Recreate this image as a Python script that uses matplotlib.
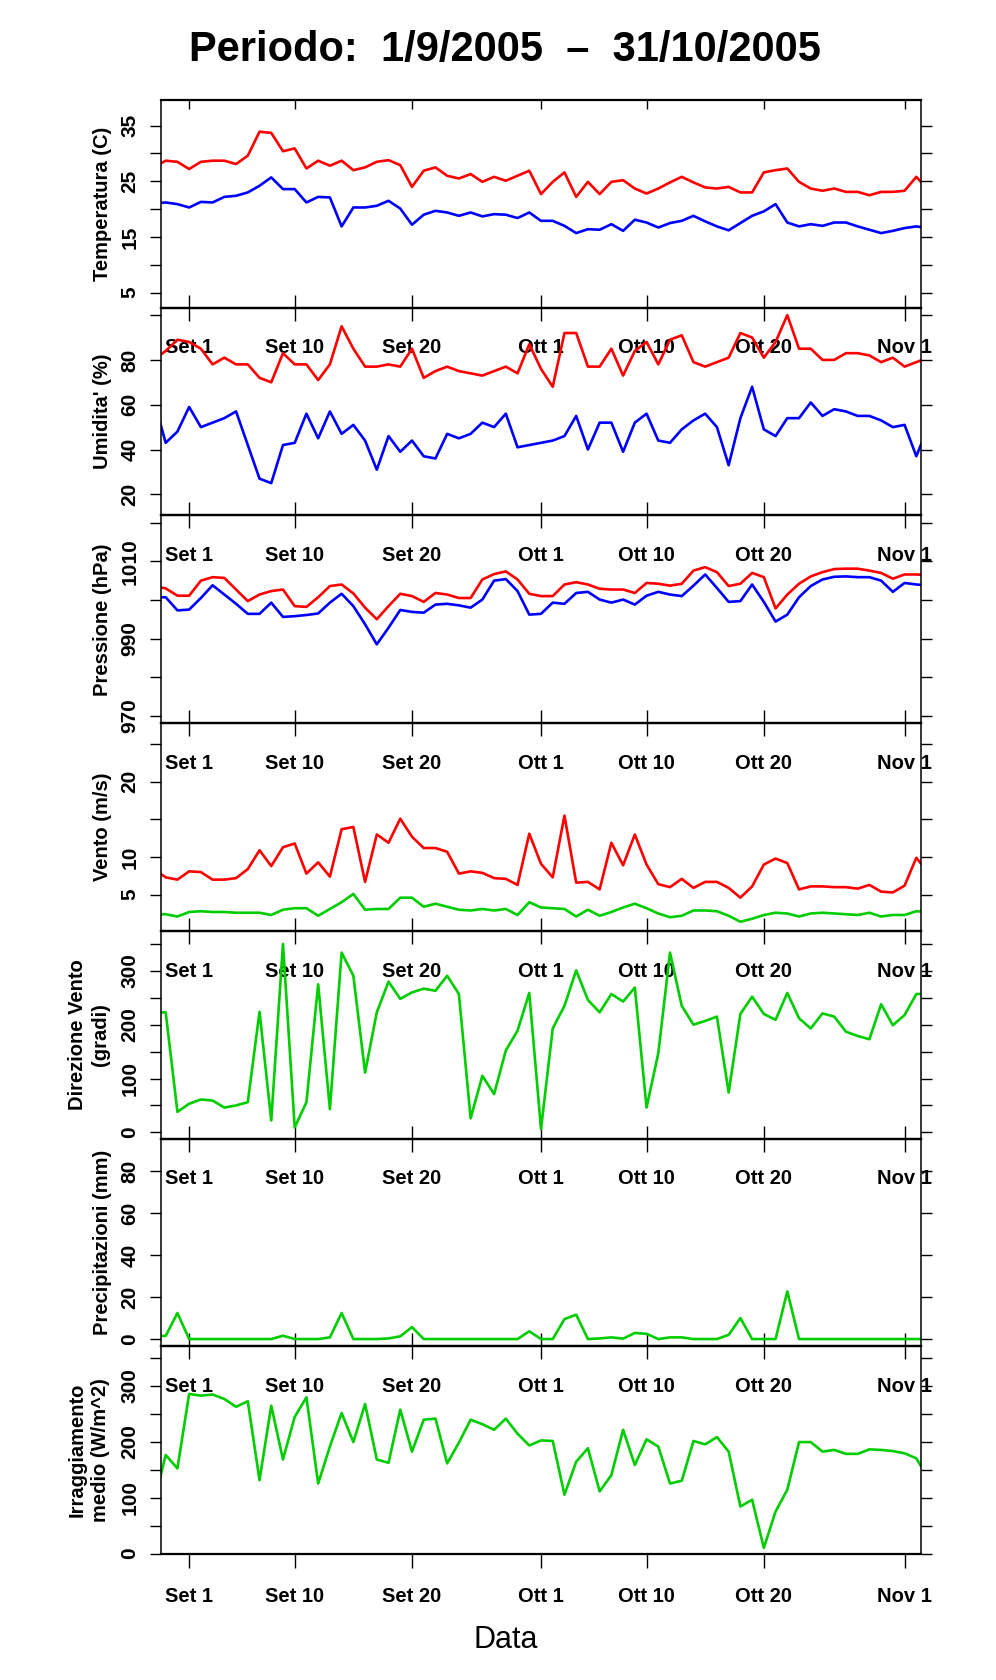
import numpy as np
import pandas as pd
import matplotlib
matplotlib.use('Agg')
import matplotlib.pyplot as plt

plt.rcParams['font.family'] = ['Liberation Sans', 'DejaVu Sans']

# giorni dal 29/8/2005 al 3/11/2005 (i bordi vengono tagliati dal riquadro)
date = pd.date_range('2005-08-29', '2005-11-03', freq='D')

temp_max = [27.5, 28.7, 28.5, 27.2, 28.5, 28.7, 28.7, 28.1, 29.6, 33.9, 33.7, 30.4, 30.9, 27.3,
            28.7, 27.8, 28.7, 27.0, 27.5, 28.5, 28.8, 27.9, 24.0, 26.9, 27.5, 26.0, 25.5, 26.3,
            24.9, 25.8, 25.1, 26.0, 26.9, 22.7, 24.9, 26.6, 22.2, 24.9, 22.7, 24.9, 25.2, 23.7,
            22.8, 23.7, 24.8, 25.8, 24.8, 23.9, 23.7, 24.0, 23.0, 23.0, 26.6, 27.0, 27.3, 24.9,
            23.7, 23.3, 23.7, 23.1, 23.1, 22.5, 23.1, 23.1, 23.3, 25.8, 23.5]
temp_min = [21.0, 21.2, 20.9, 20.3, 21.3, 21.2, 22.2, 22.4, 23.0, 24.2, 25.7, 23.6, 23.6, 21.2,
            22.2, 22.1, 16.9, 20.3, 20.3, 20.6, 21.5, 20.1, 17.2, 19.0, 19.7, 19.4, 18.8, 19.4,
            18.7, 19.1, 19.0, 18.4, 19.4, 17.9, 17.9, 17.0, 15.7, 16.4, 16.3, 17.3, 16.1, 18.1,
            17.6, 16.7, 17.5, 17.9, 18.8, 17.8, 16.9, 16.2, 17.5, 18.8, 19.6, 20.9, 17.6, 16.9,
            17.3, 17.0, 17.6, 17.6, 16.9, 16.3, 15.7, 16.1, 16.6, 16.9, 16.6]

umid_max = [80, 84, 89, 88, 85, 78, 81, 78, 78, 72, 70, 83, 78, 78, 71, 78, 95, 85, 77, 77,
            78, 77, 85, 72, 75, 77, 75, 74, 73, 75, 77, 74, 87, 76, 68, 92, 92, 77, 77, 85,
            73, 84, 88, 78, 89, 91, 79, 77, 79, 81, 92, 90, 81, 88, 100, 85, 85, 80, 80, 83,
            83, 82, 79, 81, 77, 79, 81]
umid_min = [62, 43, 48, 59, 50, 52, 54, 57, 42, 27, 25, 42, 43, 56, 45, 57, 47, 51, 44, 31,
            46, 39, 44, 37, 36, 47, 45, 47, 52, 50, 56, 41, 42, 43, 44, 46, 55, 40, 52, 52,
            39, 52, 56, 44, 43, 49, 53, 56, 50, 33, 54, 68, 49, 46, 54, 54, 61, 55, 58, 57,
            55, 55, 53, 50, 51, 37, 50]

press_max = [1003.5, 1003.0, 1001.1, 1001.1, 1005.0, 1005.9, 1005.7, 1002.7, 999.7, 1001.4,
             1002.3, 1002.7, 998.4, 998.2, 1000.7, 1003.6, 1004.0, 1001.7, 998.0, 995.0,
             998.4, 1001.6, 1001.0, 999.5, 1001.8, 1001.4, 1000.5, 1000.5, 1005.3, 1006.7,
             1007.4, 1005.3, 1001.6, 1001.0, 1001.0, 1004.0, 1004.6, 1004.0, 1002.9, 1002.7,
             1002.7, 1001.8, 1004.4, 1004.2, 1003.7, 1004.2, 1007.6, 1008.5, 1007.2, 1003.6,
             1004.2, 1007.0, 1005.9, 997.8, 1001.4, 1004.2, 1006.1, 1007.2, 1008.0, 1008.1,
             1008.1, 1007.6, 1007.0, 1005.5, 1006.6, 1006.6, 1006.4]
press_min = [1000.7, 1000.7, 997.3, 997.5, 1000.5, 1003.8, 1001.4, 999.0, 996.4, 996.4,
             999.3, 995.6, 995.8, 996.1, 996.5, 999.3, 1001.6, 998.4, 993.7, 988.5,
             992.8, 997.4, 996.9, 996.7, 998.8, 999.0, 998.6, 998.0, 1000.1, 1005.0,
             1005.4, 1002.3, 996.2, 996.4, 999.3, 999.0, 1001.8, 1002.1, 1000.1, 999.3,
             1000.1, 998.8, 1001.1, 1002.1, 1001.4, 1001.0, 1003.7, 1006.6, 1003.1, 999.5,
             999.7, 1004.0, 999.5, 994.4, 996.2, 1000.7, 1003.6, 1005.3, 1006.0, 1006.1,
             1005.9, 1005.9, 1005.0, 1002.1, 1004.4, 1004.0, 1003.8]

vento_max = [8.4, 7.3, 7.0, 8.1, 8.0, 7.0, 7.0, 7.2, 8.4, 10.9, 8.8, 11.3, 11.8, 7.8, 9.3,
             7.4, 13.7, 14.0, 6.7, 13.0, 11.9, 15.1, 12.7, 11.2, 11.2, 10.7, 7.8, 8.1, 7.9,
             7.2, 7.1, 6.3, 13.1, 9.1, 7.3, 15.5, 6.6, 6.7, 5.7, 11.9, 8.9, 13.0, 9.0, 6.4,
             6.0, 7.1, 5.9, 6.7, 6.7, 5.9, 4.6, 6.1, 9.0, 9.8, 9.2, 5.7, 6.1, 6.1, 6.0, 6.0,
             5.8, 6.3, 5.4, 5.3, 6.2, 9.9, 8.0]
vento_med = [2.4, 2.4, 2.1, 2.7, 2.8, 2.7, 2.7, 2.6, 2.6, 2.6, 2.3, 3.0, 3.2, 3.2, 2.2, 3.1,
             4.0, 5.1, 3.0, 3.1, 3.1, 4.6, 4.6, 3.4, 3.8, 3.4, 3.0, 2.9, 3.1, 2.9, 3.1, 2.3,
             4.0, 3.3, 3.2, 3.1, 2.1, 3.0, 2.2, 2.7, 3.3, 3.8, 3.2, 2.5, 2.0, 2.2, 2.9, 2.9,
             2.8, 2.2, 1.4, 1.8, 2.3, 2.6, 2.5, 2.1, 2.5, 2.6, 2.5, 2.4, 2.3, 2.6, 2.1, 2.3,
             2.3, 2.8, 2.7]

direzione = [222, 223, 38, 53, 61, 59, 46, 50, 56, 224, 22, 350, 9, 56, 275, 43, 334, 291,
             111, 223, 280, 248, 260, 267, 263, 291, 257, 26, 105, 71, 152, 189, 259, 6, 193,
             235, 301, 246, 223, 257, 243, 269, 46, 147, 334, 235, 200, 207, 215, 74, 220,
             252, 220, 209, 259, 212, 193, 221, 215, 187, 179, 173, 238, 199, 218, 257, 257]

pioggia = [1.5, 1.5, 12.4, 0, 0, 0, 0, 0, 0, 0, 0, 1.6, 0, 0, 0, 0.8, 12.4, 0, 0, 0, 0.3,
           1.3, 5.7, 0, 0, 0, 0, 0, 0, 0, 0, 0, 3.7, 0, 0, 9.5, 11.6, 0, 0.3, 0.8, 0.2, 2.9,
           2.5, 0, 0.8, 0.8, 0, 0, 0, 2.0, 10.0, 0, 0, 0, 22.7, 0, 0, 0, 0, 0, 0, 0, 0, 0,
           0, 0, 0]

irragg = [90, 176, 152, 285, 282, 284, 276, 262, 272, 131, 264, 168, 244, 279, 125, 191, 251,
          199, 267, 168, 162, 257, 182, 239, 241, 161, 198, 239, 231, 221, 241, 214, 193, 202,
          201, 105, 164, 188, 111, 140, 221, 158, 204, 191, 125, 130, 201, 195, 208, 182, 84,
          96, 10, 75, 114, 199, 199, 182, 185, 178, 178, 186, 185, 183, 179, 170, 135]

tick_date = pd.to_datetime(['2005-09-01', '2005-09-10', '2005-09-20', '2005-10-01',
                            '2005-10-10', '2005-10-20', '2005-11-01'])
tick_lab = ['Set 1', 'Set 10', 'Set 20', 'Ott 1', 'Ott 10', 'Ott 20', 'Nov 1']

ROSSO, BLU, VERDE = '#ff0000', '#0000ff', '#00cd00'

pannelli = [
    ([(temp_max, ROSSO), (temp_min, BLU)], (2.3, 39.6),
     [5, 10, 15, 20, 25, 30, 35], ['5', '', '15', '', '25', '', '35'], 'Temperatura (C)'),
    ([(umid_max, ROSSO), (umid_min, BLU)], (10.6, 103.3),
     [20, 40, 60, 80, 100], ['20', '40', '60', '80', ''], "Umidita' (%)"),
    ([(press_max, ROSSO), (press_min, BLU)], (968.1, 1021.9),
     [970, 980, 990, 1000, 1010, 1020], ['970', '', '990', '', '1010', ''], 'Pressione (hPa)'),
    ([(vento_max, ROSSO), (vento_med, VERDE)], (0.2, 27.8),
     [5, 10, 15, 20, 25], ['5', '10', '', '20', ''], 'Vento (m/s)'),
    ([(direzione, VERDE)], (-11.5, 374.5),
     [0, 50, 100, 150, 200, 250, 300, 350], ['0', '', '100', '', '200', '', '300', ''],
     'Direzione Vento\n(gradi)'),
    ([(pioggia, VERDE)], (-3.4, 95.5),
     [0, 20, 40, 60, 80], ['0', '20', '40', '60', '80'], 'Precipitazioni (mm)'),
    ([(irragg, VERDE)], (-0.7, 370.3),
     [0, 50, 100, 150, 200, 250, 300, 350], ['0', '', '100', '', '200', '', '300', ''],
     'Irraggiamento\nmedio (W/m^2)'),
]

W, H = 996, 1680
fig = plt.figure(figsize=(W / 100, H / 100), dpi=100)

x0, x1 = 161, 921
y_top, h_pan = 100, 207.7
xlim = (pd.Timestamp('2005-09-01') - pd.Timedelta(days=2.4),
        pd.Timestamp('2005-10-31') + pd.Timedelta(days=2.4))

assi = []
for k, (serie, ylim, yt, ylab, titolo) in enumerate(pannelli):
    top = y_top + k * h_pan
    ax = fig.add_axes([x0 / W, 1 - (top + h_pan) / H, (x1 - x0) / W, h_pan / H])
    ax.set_facecolor('none')
    for valori, col in serie:
        ax.plot(date, valori, color=col, lw=1.9, solid_joinstyle='round')
    ax.set_xlim(xlim)
    ax.set_ylim(ylim)

    ax.set_xticks(tick_date)
    ax.set_xticklabels(tick_lab, fontsize=14.5, fontweight='bold')
    if k < len(pannelli) - 1:
        ax.tick_params(axis='x', direction='inout', length=18.3, width=1.0, pad=13,
                       top=False, bottom=True)
    else:
        ax.tick_params(axis='x', direction='out', length=10, width=1.0, pad=13.5,
                       top=False, bottom=True)

    ax.set_yticks(yt)
    ax.set_yticklabels(ylab, fontsize=15, fontweight='bold', rotation=90, va='center')
    ax.tick_params(axis='y', left=True, right=True, direction='out', length=8,
                   width=1.0, pad=7.5)

    for lato in ['left', 'right']:
        ax.spines[lato].set_linewidth(1.1)
    for lato in ['top', 'bottom']:
        ax.spines[lato].set_linewidth(1.6)

    xc = 89 if '\n' in titolo else 102
    fig.text(xc / W, 1 - (top + h_pan / 2) / H, titolo, rotation=90, ha='center',
             va='center', fontsize=14.5, fontweight='bold', linespacing=1.3,
             multialignment='center')
    assi.append(ax)

# tacche interne sul bordo superiore del primo pannello
ax_sup = fig.add_axes(assi[0].get_position(), frameon=False, sharex=assi[0])
ax_sup.set_facecolor('none')
ax_sup.set_yticks([])
ax_sup.tick_params(axis='x', top=True, bottom=False, labelbottom=False, labeltop=False,
                   direction='in', length=6.5, width=1.0)

fig.text(505 / W, 1 - 50 / H, 'Periodo:  1/9/2005  \u2013  31/10/2005', ha='center',
         va='center', fontsize=30, fontweight='bold')
fig.text(506 / W, 1 - 1640 / H, 'Data', ha='center', va='center', fontsize=22)

fig.savefig('out.png', dpi=100, facecolor='white')
